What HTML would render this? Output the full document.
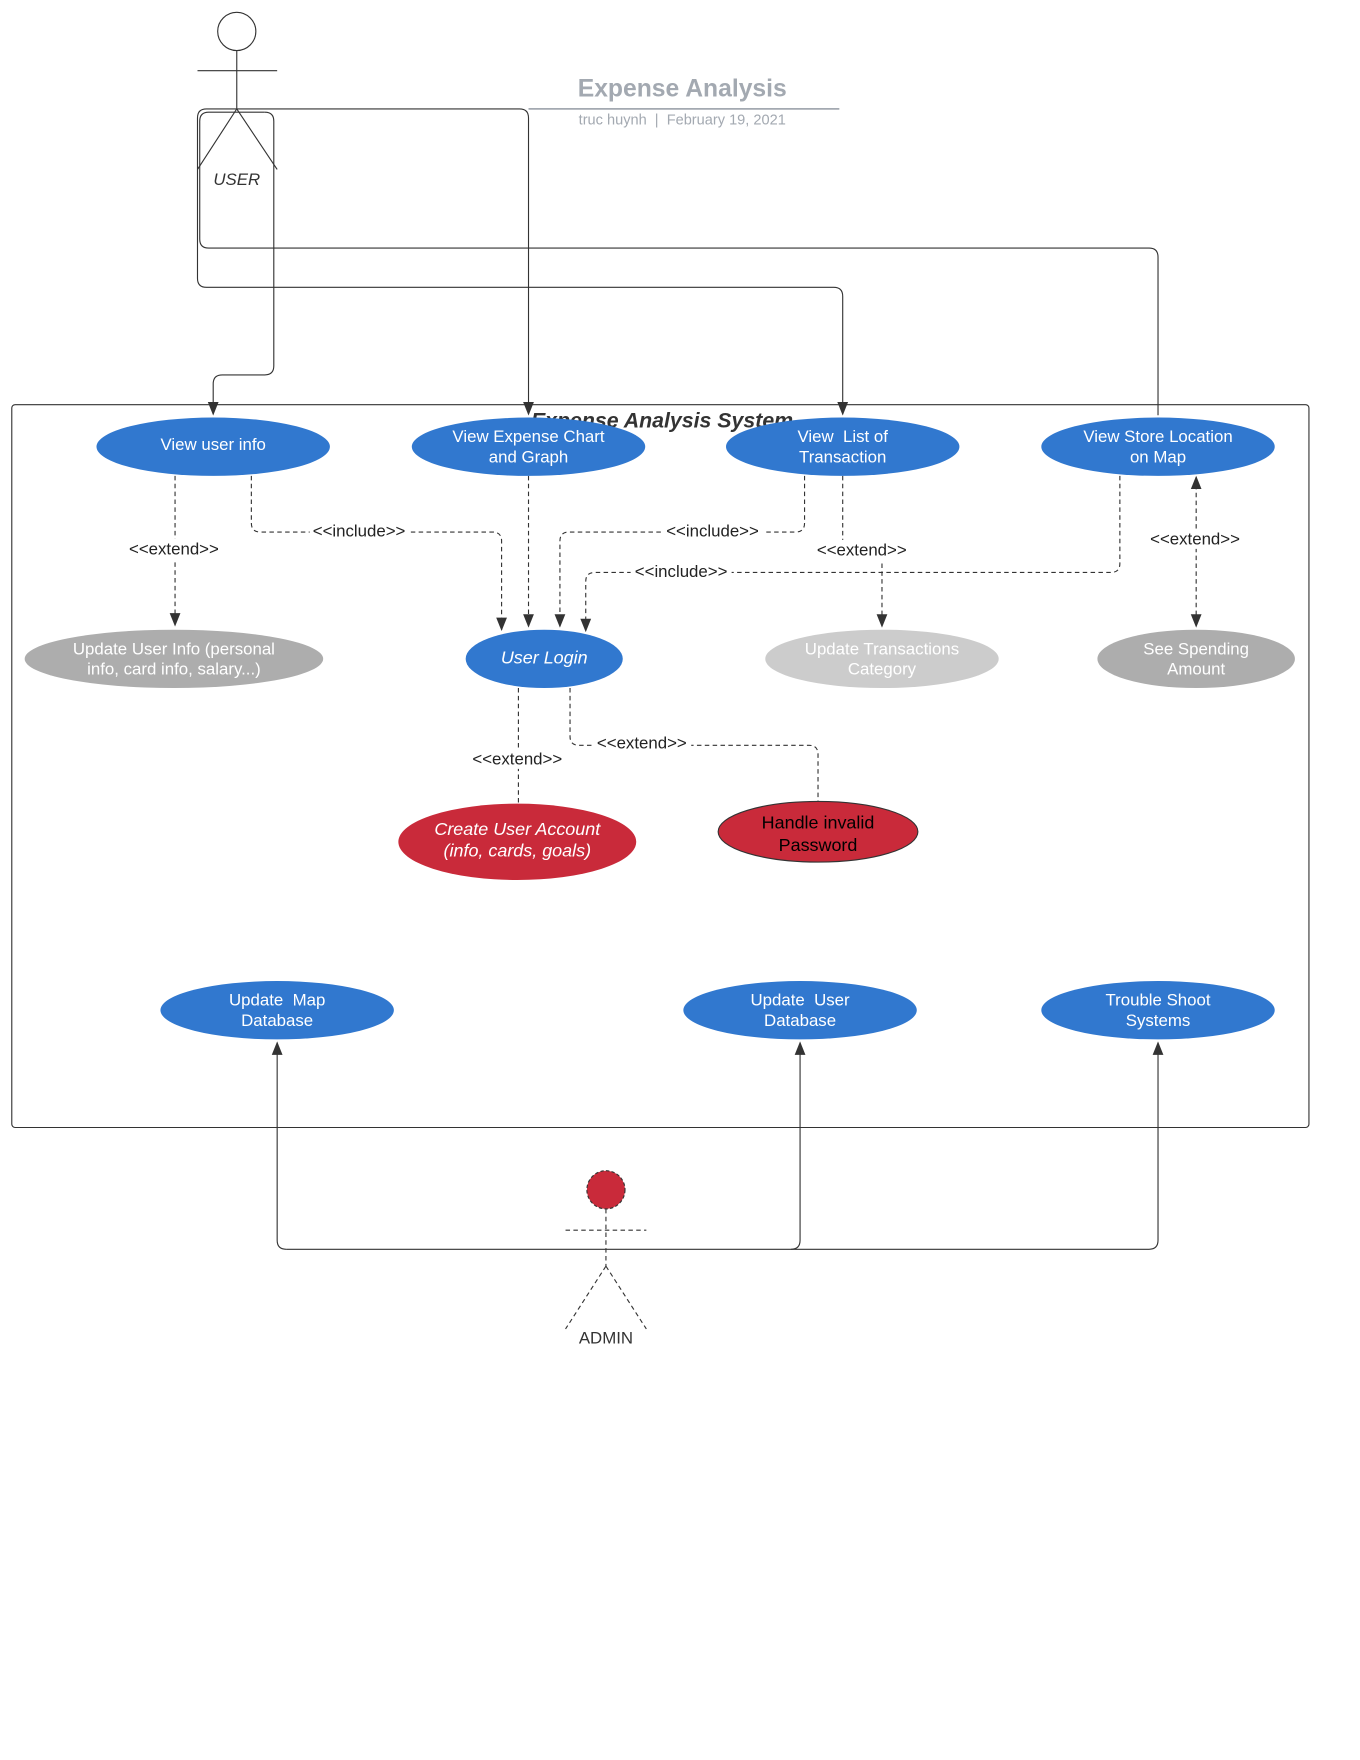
<!DOCTYPE html>
<html><head><meta charset="utf-8"><style>
html,body{margin:0;padding:0;background:#fff;width:1360px;height:1760px;overflow:hidden}
svg{display:block}
text{font-family:"Liberation Sans",sans-serif}
</style></head><body>
<svg width="1360" height="1760" viewBox="0 0 1212 1568" preserveAspectRatio="none" xmlns="http://www.w3.org/2000/svg">
<defs>
<marker id="a" viewBox="0 0 10 10" refX="9" refY="5" markerWidth="12" markerHeight="12" markerUnits="userSpaceOnUse" orient="auto-start-reverse"><path d="M0,1 L10,5 L0,9 z" fill="#333"/></marker>
</defs>
<g stroke="#333" stroke-width="1" fill="none">
<circle cx="211" cy="28" r="17"/>
<line x1="176" y1="63" x2="247" y2="63"/>
<line x1="211" y1="45" x2="211" y2="97"/>
<line x1="211" y1="97" x2="176" y2="151"/>
<line x1="211" y1="97" x2="247" y2="151"/>
</g>
<text x="211" y="165" font-size="15" font-style="italic" text-anchor="middle" fill="#333">USER</text>
<text x="608" y="86" font-size="22" font-weight="bold" text-anchor="middle" fill="#a3a9b1">Expense Analysis</text>
<line x1="471" y1="97" x2="748" y2="97" stroke="#a3a9b1" stroke-width="1.5"/>
<text x="608" y="111" font-size="13" text-anchor="middle" fill="#a3a9b1" xml:space="preserve">truc huynh  |  February 19, 2021</text>
<g stroke="#333" stroke-width="1" fill="none">
<path d="M211,97 L463,97 Q471,97 471,105 L471,369" marker-end="url(#a)"/>
<path d="M211,97 L184,97 Q176,97 176,105 L176,248 Q176,256 184,256 L743,256 Q751,256 751,264 L751,369" marker-end="url(#a)"/>
<path d="M236,100 L186,100 Q178,100 178,108 L178,213 Q178,221 186,221 L1024,221 Q1032,221 1032,229 L1032,370"/>
<path d="M236,100 Q244,100 244,108 L244,326 Q244,334 236,334 L198,334 Q190,334 190,342 L190,369" marker-end="url(#a)"/>
</g>
<rect x="10.5" y="360.5" width="1156" height="644" rx="3" fill="none" stroke="#333"/>
<text x="590" y="381" font-size="19" font-weight="bold" font-style="italic" text-anchor="middle" fill="#333">Expense Analysis System</text>
<g stroke="#333" stroke-width="1" fill="none" stroke-dasharray="4,3">
<path d="M156,424 L156,557" marker-end="url(#a)"/>
<path d="M224,424 L224,466 Q224,474 232,474 L439,474 Q447,474 447,482 L447,561" marker-end="url(#a)"/>
<path d="M471,424 L471,558" marker-end="url(#a)"/>
<path d="M717,424 L717,466 Q717,474 709,474 L507,474 Q499,474 499,482 L499,558" marker-end="url(#a)"/>
<path d="M751,424 L751,495"/>
<path d="M786,502 L786,558" marker-end="url(#a)"/>
<path d="M998,424 L998,502 Q998,510 990,510 L530,510 Q522,510 522,518 L522,562" marker-end="url(#a)"/>
<path d="M1066,425 L1066,558" marker-start="url(#a)" marker-end="url(#a)"/>
<path d="M462,613 L462,716"/>
<path d="M508,613 L508,656 Q508,664 516,664 L721,664 Q729,664 729,672 L729,714"/>
</g>
<g font-size="15" fill="#222" text-anchor="middle">
<rect x="110" y="480" width="92" height="18" fill="#fff"/><text x="155" y="494">&lt;&lt;extend&gt;&gt;</text>
<rect x="276" y="464" width="90" height="18" fill="#fff"/><text x="320" y="478">&lt;&lt;include&gt;&gt;</text>
<rect x="590" y="464" width="90" height="18" fill="#fff"/><text x="635" y="478">&lt;&lt;include&gt;&gt;</text>
<rect x="724" y="481" width="90" height="18" fill="#fff"/><text x="768" y="495">&lt;&lt;extend&gt;&gt;</text>
<rect x="562" y="500" width="90" height="18" fill="#fff"/><text x="607" y="514">&lt;&lt;include&gt;&gt;</text>
<rect x="1020" y="471" width="90" height="18" fill="#fff"/><text x="1065" y="485">&lt;&lt;extend&gt;&gt;</text>
<rect x="416" y="667" width="90" height="18" fill="#fff"/><text x="461" y="681">&lt;&lt;extend&gt;&gt;</text>
<rect x="528" y="653" width="88" height="18" fill="#fff"/><text x="572" y="667">&lt;&lt;extend&gt;&gt;</text>
</g>
<g font-size="15" text-anchor="middle" fill="#fff">
<ellipse cx="190" cy="398" rx="104" ry="26" fill="#3178cf"/><text x="190" y="401">View user info</text>
<ellipse cx="471" cy="398" rx="104" ry="26" fill="#3178cf"/><text x="471" y="394">View Expense Chart</text><text x="471" y="412">and Graph</text>
<ellipse cx="751" cy="398" rx="104" ry="26" fill="#3178cf"/><text x="751" y="394" xml:space="preserve">View  List of</text><text x="751" y="412">Transaction</text>
<ellipse cx="1032" cy="398" rx="104" ry="26" fill="#3178cf"/><text x="1032" y="394">View Store Location</text><text x="1032" y="412">on Map</text>
<ellipse cx="155" cy="587" rx="133" ry="26" fill="#adadad"/><text x="155" y="583">Update User Info (personal</text><text x="155" y="601">info, card info, salary...)</text>
<ellipse cx="485" cy="587" rx="70" ry="26" fill="#3178cf"/><text x="485" y="591" font-style="italic" font-size="16">User Login</text>
<ellipse cx="786" cy="587" rx="104" ry="26" fill="#cccccc"/><text x="786" y="583">Update Transactions</text><text x="786" y="601">Category</text>
<ellipse cx="1066" cy="587" rx="88" ry="26" fill="#adadad"/><text x="1066" y="583">See Spending</text><text x="1066" y="601">Amount</text>
<ellipse cx="461" cy="750" rx="106" ry="34" fill="#c92a3a"/><text x="461" y="744" font-style="italic" font-size="16">Create User Account</text><text x="461" y="763" font-style="italic" font-size="16">(info, cards, goals)</text>
<ellipse cx="729" cy="741" rx="89" ry="27" fill="#c92a3a" stroke="#333"/><text x="729" y="738" fill="#000" font-size="16">Handle invalid</text><text x="729" y="758" fill="#000" font-size="16">Password</text>
<ellipse cx="247" cy="900" rx="104" ry="26" fill="#3178cf"/><text x="247" y="896" xml:space="preserve">Update  Map</text><text x="247" y="914">Database</text>
<ellipse cx="713" cy="900" rx="104" ry="26" fill="#3178cf"/><text x="713" y="896" xml:space="preserve">Update  User</text><text x="713" y="914">Database</text>
<ellipse cx="1032" cy="900" rx="104" ry="26" fill="#3178cf"/><text x="1032" y="896">Trouble Shoot</text><text x="1032" y="914">Systems</text>
</g>
<circle cx="540" cy="1060" r="17" fill="#c92a3a" stroke="#333" stroke-dasharray="3,2"/>
<g stroke="#333" stroke-width="1" fill="none" stroke-dasharray="4,3">
<line x1="504" y1="1096" x2="576" y2="1096"/>
<line x1="540" y1="1077" x2="540" y2="1128"/>
<line x1="540" y1="1128" x2="504" y2="1184"/>
<line x1="540" y1="1128" x2="576" y2="1184"/>
</g>
<text x="540" y="1197" font-size="15" text-anchor="middle" fill="#333">ADMIN</text>
<g stroke="#333" stroke-width="1" fill="none">
<path d="M255,1113 L1024,1113 Q1032,1113 1032,1105 L1032,929" marker-end="url(#a)"/>
<path d="M255,1113 Q247,1113 247,1105 L247,929" marker-end="url(#a)"/>
<path d="M705,1113 Q713,1113 713,1105 L713,929" marker-end="url(#a)"/>
</g>
</svg>
</body></html>
